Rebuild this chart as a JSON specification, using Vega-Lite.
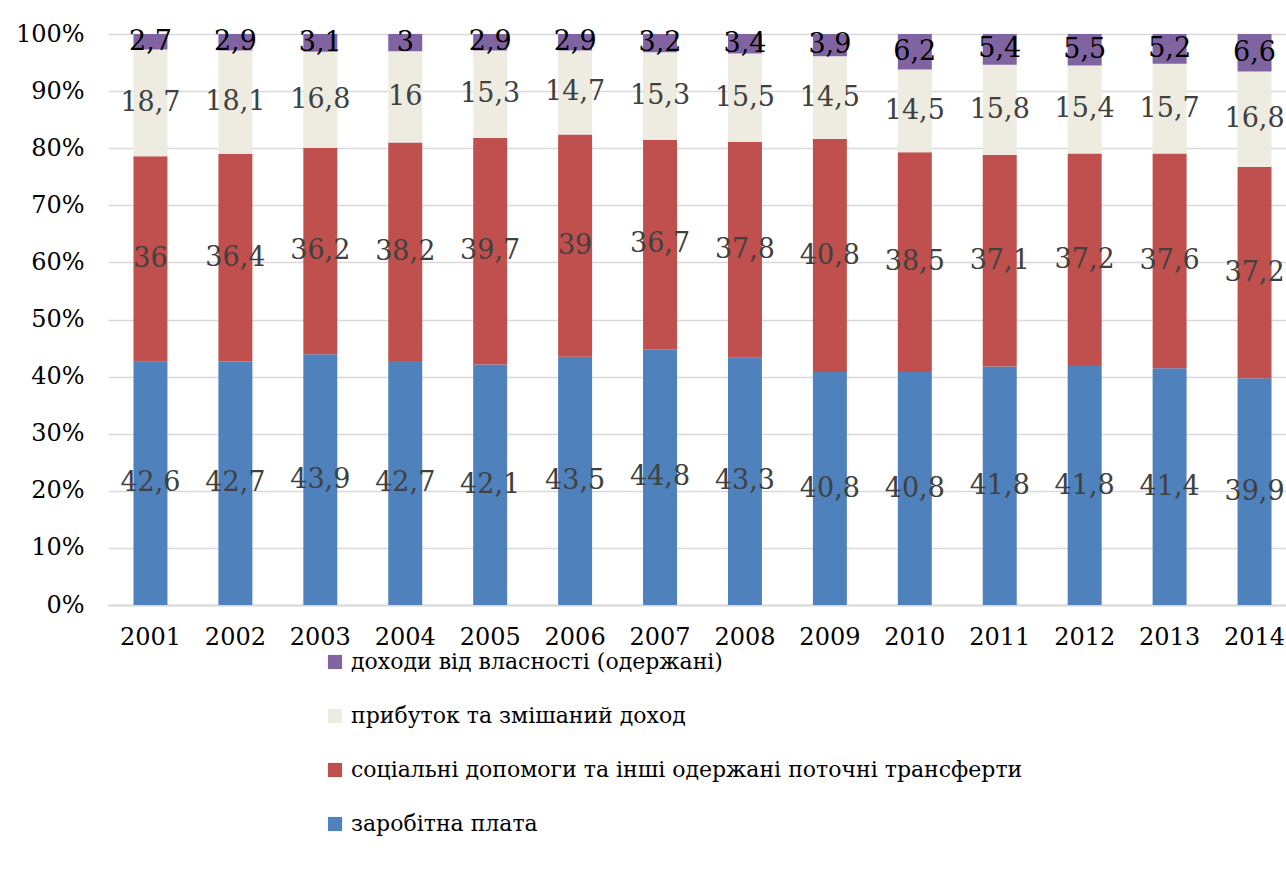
{
  "$schema": "https://vega.github.io/schema/vega-lite/v6.json",
  "autosize": {"type": "none"},
  "width": 1189,
  "height": 571,
  "padding": {"left": 108, "top": 34, "right": 0, "bottom": 274},
  "background": "white",
  "config": {
    "view": {"stroke": null},
    "font": "DejaVu Serif",
    "axis": {"labelFont": "DejaVu Serif", "labelColor": "black"},
    "legend": {"labelFont": "DejaVu Serif"},
    "text": {"font": "DejaVu Serif"}
  },
  "data": {
    "values": [
      {"year": "2001", "заробітна плата": 42.6, "соціальні допомоги та інші одержані поточні трансферти": 36, "прибуток та змішаний доход": 18.7, "доходи від власності (одержані)": 2.7},
      {"year": "2002", "заробітна плата": 42.7, "соціальні допомоги та інші одержані поточні трансферти": 36.4, "прибуток та змішаний доход": 18.1, "доходи від власності (одержані)": 2.9},
      {"year": "2003", "заробітна плата": 43.9, "соціальні допомоги та інші одержані поточні трансферти": 36.2, "прибуток та змішаний доход": 16.8, "доходи від власності (одержані)": 3.1},
      {"year": "2004", "заробітна плата": 42.7, "соціальні допомоги та інші одержані поточні трансферти": 38.2, "прибуток та змішаний доход": 16, "доходи від власності (одержані)": 3},
      {"year": "2005", "заробітна плата": 42.1, "соціальні допомоги та інші одержані поточні трансферти": 39.7, "прибуток та змішаний доход": 15.3, "доходи від власності (одержані)": 2.9},
      {"year": "2006", "заробітна плата": 43.5, "соціальні допомоги та інші одержані поточні трансферти": 39, "прибуток та змішаний доход": 14.7, "доходи від власності (одержані)": 2.9},
      {"year": "2007", "заробітна плата": 44.8, "соціальні допомоги та інші одержані поточні трансферти": 36.7, "прибуток та змішаний доход": 15.3, "доходи від власності (одержані)": 3.2},
      {"year": "2008", "заробітна плата": 43.3, "соціальні допомоги та інші одержані поточні трансферти": 37.8, "прибуток та змішаний доход": 15.5, "доходи від власності (одержані)": 3.4},
      {"year": "2009", "заробітна плата": 40.8, "соціальні допомоги та інші одержані поточні трансферти": 40.8, "прибуток та змішаний доход": 14.5, "доходи від власності (одержані)": 3.9},
      {"year": "2010", "заробітна плата": 40.8, "соціальні допомоги та інші одержані поточні трансферти": 38.5, "прибуток та змішаний доход": 14.5, "доходи від власності (одержані)": 6.2},
      {"year": "2011", "заробітна плата": 41.8, "соціальні допомоги та інші одержані поточні трансферти": 37.1, "прибуток та змішаний доход": 15.8, "доходи від власності (одержані)": 5.4},
      {"year": "2012", "заробітна плата": 41.8, "соціальні допомоги та інші одержані поточні трансферти": 37.2, "прибуток та змішаний доход": 15.4, "доходи від власності (одержані)": 5.5},
      {"year": "2013", "заробітна плата": 41.4, "соціальні допомоги та інші одержані поточні трансферти": 37.6, "прибуток та змішаний доход": 15.7, "доходи від власності (одержані)": 5.2},
      {"year": "2014", "заробітна плата": 39.9, "соціальні допомоги та інші одержані поточні трансферти": 37.2, "прибуток та змішаний доход": 16.8, "доходи від власності (одержані)": 6.6}
    ]
  },
  "transform": [
    {"fold": ["заробітна плата", "соціальні допомоги та інші одержані поточні трансферти", "прибуток та змішаний доход", "доходи від власності (одержані)"], "as": ["series", "v"]},
    {"calculate": "indexof(['заробітна плата', 'соціальні допомоги та інші одержані поточні трансферти', 'прибуток та змішаний доход', 'доходи від власності (одержані)'], datum.series)", "as": "k"},
    {"stack": "v", "groupby": ["year"], "sort": [{"field": "k", "order": "ascending"}], "offset": "normalize", "as": ["y0", "y1"]},
    {"calculate": "(datum.y0 + datum.y1) / 2", "as": "mid"},
    {"calculate": "replace(toString(datum.v), '.', ',')", "as": "lab"}
  ],
  "encoding": {
    "x": {
      "field": "year", "type": "ordinal",
      "scale": {"paddingInner": 0.6, "paddingOuter": 0.3},
      "axis": {"title": null, "labelAngle": 0, "labelFontSize": 24, "labelPadding": 20, "ticks": false, "domain": true, "domainColor": "#d9d9d9", "domainWidth": 2, "grid": false}
    }
  },
  "layer": [
    {
      "mark": {"type": "bar"},
      "encoding": {
        "y": {
          "field": "y0", "type": "quantitative",
          "scale": {"domain": [0, 1], "nice": false},
          "axis": {"title": null, "values": [0, 0.1, 0.2, 0.3, 0.4, 0.5, 0.6, 0.7, 0.8, 0.9, 1], "format": ".0%", "labelFontSize": 24, "labelPadding": 24, "ticks": false, "domain": false, "grid": true, "gridColor": "#d9d9d9", "gridWidth": 1.5}
        },
        "y2": {"field": "y1"},
        "color": {
          "field": "series", "type": "nominal",
          "scale": {
            "domain": ["доходи від власності (одержані)", "прибуток та змішаний доход", "соціальні допомоги та інші одержані поточні трансферти", "заробітна плата"],
            "range": ["#8064A2", "#EEECE1", "#C0504D", "#4F81BD"]
          },
          "legend": {
            "title": null, "orient": "none", "legendX": 216, "legendY": 617, "direction": "vertical",
            "symbolType": "square", "symbolSize": 200, "symbolStrokeWidth": 0,
            "labelFontSize": 22, "labelColor": "black", "rowPadding": 32, "labelOffset": 5, "labelLimit": 800
          }
        }
      }
    },
    {
      "mark": {"type": "text", "fontSize": 27, "baseline": "middle", "align": "center"},
      "encoding": {
        "y": {"field": "mid", "type": "quantitative"},
        "text": {"field": "lab"},
        "color": {
          "condition": {"test": "datum.k === 3", "value": "black"},
          "value": "#404040"
        }
      }
    }
  ]
}
